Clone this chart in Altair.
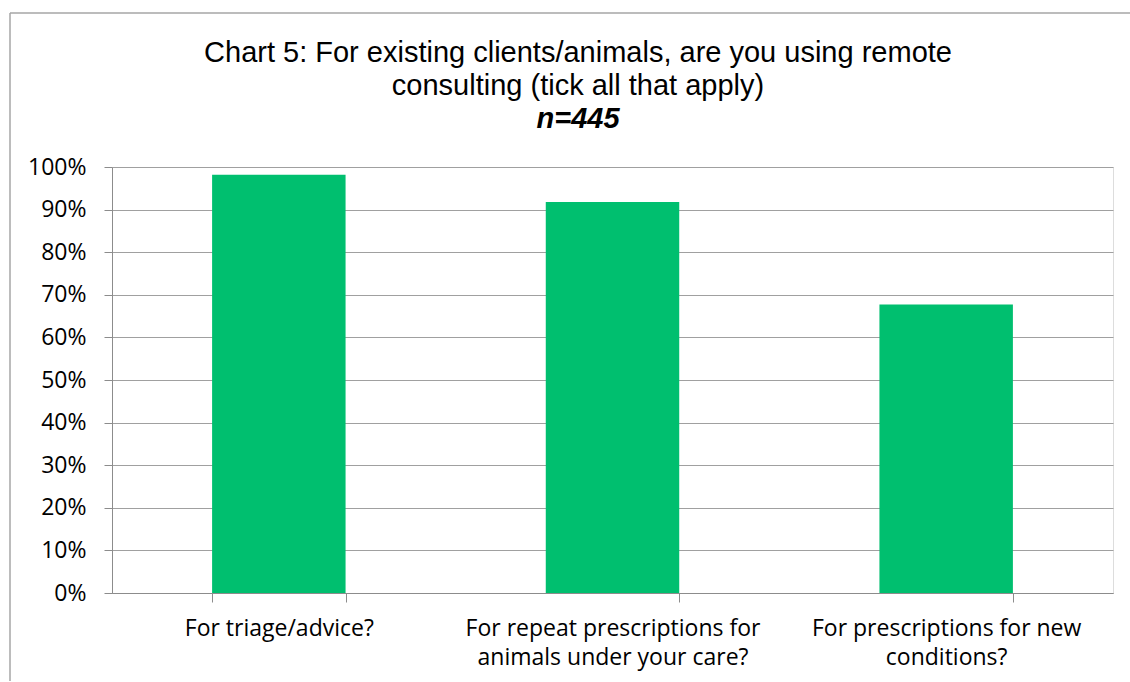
import altair as alt
import pandas as pd

title_lines = ["Chart 5: For existing clients/animals, are you using remote",
               "consulting (tick all that apply)"]
subtitle = "n=445"
keys = ["For triage/advice?",
        "For repeat prescriptions for animals under your care?",
        "For prescriptions for new conditions?"]
label_lines = [["For triage/advice?"],
               ["For repeat prescriptions for", "animals under your care?"],
               ["For prescriptions for new", "conditions?"]]
values = [0.982, 0.918, 0.677]
y_ticks = [0, 0.1, 0.2, 0.3, 0.4, 0.5, 0.6, 0.7, 0.8, 0.9, 1.0]

df = pd.DataFrame({"cat": keys, "value": values})

def js_list(lines):
    return "[" + ", ".join("'" + s + "'" for s in lines) + "]"

label_expr = ""
for k, lines in zip(keys[1:], label_lines[1:]):
    label_expr += "datum.value == '" + k + "' ? " + js_list(lines) + " : "
label_expr += "datum.value"

GRID = "#A0A0A0"
AXIS = "#8C8C8C"
LABEL_FONT = "Open Sans"
LABEL_SIZE = 23

bars = alt.Chart(df).mark_bar(color="#00BF6F").encode(
    x=alt.X("cat:N", sort=keys, title=None,
            scale=alt.Scale(paddingInner=0.6, paddingOuter=0.3),
            axis=alt.Axis(labelAngle=0, labelExpr=label_expr, labelFont=LABEL_FONT,
                          labelFontSize=LABEL_SIZE, labelColor="#000000", labelLineHeight=29,
                          labelPadding=15, labelLimit=0, tickBand="extent", tickSize=9,
                          tickColor=AXIS, domainColor=AXIS, grid=False, labelBaseline="top")),
    y=alt.Y("value:Q", title=None,
            scale=alt.Scale(domain=[0, 1], nice=False),
            axis=alt.Axis(values=y_ticks, format=".0%", labelFont=LABEL_FONT,
                          labelFontSize=LABEL_SIZE, labelColor="#000000", labelPadding=18,
                          tickSize=8, tickColor=AXIS, domainColor=AXIS,
                          gridColor=GRID, gridWidth=1.2)),
)

one = alt.Data(values=[{"a": 1}])
TITLE_FONT = "Liberation Sans"
TITLE_SIZE = 29
TX = 466
title1 = alt.Chart(one).mark_text(text=title_lines[0], font=TITLE_FONT, fontSize=TITLE_SIZE,
                                  align="center", baseline="alphabetic", color="#000000").encode(
    x=alt.value(TX), y=alt.value(-105))
title2 = alt.Chart(one).mark_text(text=title_lines[1], font=TITLE_FONT, fontSize=TITLE_SIZE,
                                  align="center", baseline="alphabetic", color="#000000").encode(
    x=alt.value(TX), y=alt.value(-72))
title3 = alt.Chart(one).mark_text(text=subtitle, font=TITLE_FONT, fontSize=TITLE_SIZE,
                                  fontWeight="bold", fontStyle="italic",
                                  align="center", baseline="alphabetic", color="#000000").encode(
    x=alt.value(TX), y=alt.value(-39))

border_left = alt.Chart(one).mark_rule(color="#A6A6A6", strokeWidth=1.5).encode(
    x=alt.value(-102), y=alt.value(-154), y2=alt.value(520))
border_top = alt.Chart(one).mark_rule(color="#A6A6A6", strokeWidth=1.5).encode(
    x=alt.value(-102), x2=alt.value(1020), y=alt.value(-154))

chart = alt.layer(bars, title1, title2, title3, border_left, border_top).properties(
    width=1001, height=426,
    autosize=alt.AutoSizeParams(type="none"),
    padding={"left": 112, "top": 167, "right": 17, "bottom": 88},
).configure_view(stroke=None).configure(background="white")

chart.save("out.html", embed_options={"renderer": "svg", "actions": False})
